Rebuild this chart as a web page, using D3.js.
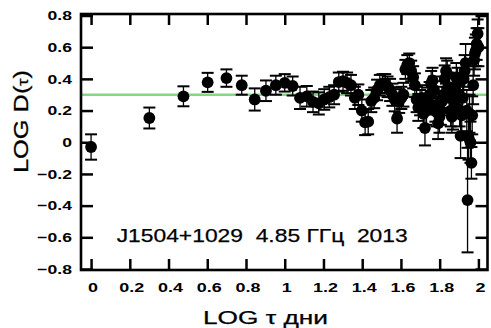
<!DOCTYPE html>
<html><head><meta charset="utf-8">
<script src="https://cdn.jsdelivr.net/npm/d3@7"></script>
<style>html,body{margin:0;padding:0;background:#fff;}svg{display:block;}</style>
</head><body>
<svg id="c" width="491" height="328"></svg>
<script>
const logTau = [0,0.301,0.477,0.602,0.699,0.778,0.845,0.903,0.954,1.0,
1.041,1.079,1.114,1.146,1.176,1.204,1.230,1.255,1.279,1.301,
1.322,1.342,1.362,1.380,1.398,1.415,1.431,1.447,1.462,1.477,
1.491,1.505,1.519,1.531,1.544,1.556,1.568,1.580,1.591,1.602,
1.613,1.623,1.633,1.643,1.653,1.663,1.672,1.681,1.690,1.699,
1.708,1.716,1.724,1.732,1.740,1.748,1.756,1.763,1.771,1.778,
1.785,1.792,1.799,1.806,1.813,1.820,1.826,1.833,1.839,1.845,
1.851,1.857,1.863,1.869,1.875,1.881,1.886,1.892,1.898,1.903,
1.908,1.914,1.919,1.924,1.929,1.934,1.940,1.944,1.949,1.954,
1.959,1.964,1.968,1.973,1.978,1.982,1.987,1.991,1.996,2.0];
const logD = [-0.03,0.153,0.29,0.378,0.405,0.36,0.27,0.325,0.36,0.375,
0.355,0.28,0.29,0.255,0.245,0.27,0.285,0.30,0.38,0.385,
0.375,0.36,0.28,0.30,0.20,0.125,0.13,0.26,0.28,0.33,
0.36,0.37,0.37,0.35,0.33,0.30,0.27,0.15,0.26,0.28,
0.30,0.46,0.49,0.50,0.45,0.41,0.36,0.27,0.22,0.25,
0.28,0.18,0.09,0.20,0.26,0.30,0.37,0.39,0.33,0.22,
0.19,0.12,0.16,0.20,0.26,0.30,0.40,0.45,0.43,0.35,
0.28,0.20,0.16,0.18,0.25,0.33,0.41,0.38,0.30,0.20,
0.04,0.17,0.28,0.40,0.45,0.50,0.20,-0.365,0.03,0.18,
0.00,-0.13,0.17,0.36,0.52,0.56,0.58,0.62,0.685,0.60];
const errD = [0.08,0.066,0.063,0.06,0.055,0.06,0.07,0.065,0.06,0.055,
0.06,0.07,0.065,0.065,0.07,0.065,0.065,0.06,0.06,0.06,
0.065,0.065,0.07,0.065,0.07,0.08,0.08,0.07,0.065,0.065,
0.065,0.06,0.06,0.065,0.07,0.07,0.075,0.09,0.075,0.07,
0.075,0.06,0.06,0.06,0.065,0.07,0.075,0.08,0.085,0.08,
0.08,0.09,0.11,0.09,0.085,0.08,0.08,0.08,0.085,0.09,
0.09,0.10,0.10,0.09,0.09,0.085,0.085,0.08,0.085,0.09,
0.09,0.10,0.10,0.10,0.09,0.09,0.09,0.09,0.10,0.10,
0.14,0.12,0.11,0.10,0.10,0.12,0.13,0.33,0.14,0.12,
0.13,0.10,0.12,0.12,0.10,0.10,0.10,0.10,0.09,0.12];
const xTicks = [0,0.2,0.4,0.6,0.8,1,1.2,1.4,1.6,1.8,2];
const yTicks = [0.8,0.6,0.4,0.2,0,-0.2,-0.4,-0.6,-0.8];
const refLevel = 0.3;
const xTitle = "LOG \u03C4 \u0434\u043D\u0438";
const annotation = "J1504+1029\u00A0\u00A04.85\u00A0\u0413\u0413\u0446\u00A0\u00A02013";

const svg = d3.select("#c");
const L = 81, R = 487.5, T = 14, B = 270;
const x = d3.scaleLinear().domain([-0.052, 2.047]).range([L, R]);
const y = d3.scaleLinear().domain([-0.8, 0.8]).range([269, 15.5]);
const font = "'Liberation Sans', Arial, sans-serif";

// reference line
svg.append("line").attr("x1", L).attr("x2", R).attr("y1", y(refLevel)).attr("y2", y(refLevel))
  .attr("stroke", "#86d686").attr("stroke-width", 2.5);

const data = logTau.map((v, i) => ({x: v, y: logD[i], e: errD[i]}));
const g = svg.append("g");
// error bars
data.forEach(d => {
  const cx = x(d.x), y1 = y(d.y + d.e), y2 = y(d.y - d.e);
  g.append("line").attr("x1", cx).attr("x2", cx).attr("y1", y1).attr("y2", y2).attr("stroke", "#000").attr("stroke-width", 1.3);
  [y1, y2].forEach(yy => g.append("line").attr("x1", cx - 6).attr("x2", cx + 6).attr("y1", yy).attr("y2", yy).attr("stroke", "#000").attr("stroke-width", 2));
});
g.selectAll("circle").data(data).join("circle")
  .attr("cx", d => x(d.x)).attr("cy", d => y(d.y)).attr("r", 5.9).attr("fill", "#000");

// frame
svg.append("rect").attr("x", L).attr("y", T).attr("width", R - L).attr("height", B - T)
  .attr("fill", "none").attr("stroke", "#000").attr("stroke-width", 2.6);

// ticks (inward on all sides)
const axB = d3.axisBottom(x).tickValues(xTicks).tickSize(-11).tickFormat("");
const axT = d3.axisTop(x).tickValues(xTicks).tickSize(-11).tickFormat("");
const axL = d3.axisLeft(y).tickValues(yTicks).tickSize(-12).tickFormat("");
const axR = d3.axisRight(y).tickValues(yTicks).tickSize(-12).tickFormat("");
[[axB, `translate(0,${B})`], [axT, `translate(0,${T})`], [axL, `translate(${L},0)`], [axR, `translate(${R},0)`]].forEach(([ax, tr]) => {
  const a = svg.append("g").attr("transform", tr).call(ax);
  a.select(".domain").remove();
  a.selectAll("line").attr("stroke", "#000").attr("stroke-width", 2.5);
});

// tick labels
xTicks.forEach(v => {
  svg.append("text").attr("transform", `translate(${x(v) + 2},292) scale(1.33,1)`)
    .attr("text-anchor", "middle").attr("font-family", font).attr("font-weight", "bold")
    .attr("font-size", 13.5).text(d3.format("")(v));
});
yTicks.forEach(v => {
  svg.append("text").attr("transform", `translate(72,${y(v) + 4.8}) scale(1.3,1)`)
    .attr("text-anchor", "end").attr("font-family", font).attr("font-weight", "bold")
    .attr("font-size", 13.5).text(d3.format("")(v));
});

// titles
svg.append("text").attr("x", 203).attr("y", 323.5).attr("font-family", font).attr("font-size", 18)
  .attr("stroke", "#000").attr("stroke-width", 0.25)
  .attr("textLength", 125).attr("lengthAdjust", "spacingAndGlyphs").text(xTitle);
const yt = svg.append("text").attr("transform", "translate(28,173) rotate(-90)")
  .attr("font-family", font).attr("font-size", 21).attr("stroke", "#000").attr("stroke-width", 0.3)
  .attr("textLength", 103).attr("lengthAdjust", "spacingAndGlyphs");
yt.append("tspan").text("LOG D(");
yt.append("tspan").attr("font-size", 15).text("\u03C4");
yt.append("tspan").text(")");

svg.append("text").attr("x", 116.7).attr("y", 241.5).attr("font-family", font).attr("font-size", 19)
  .attr("stroke", "#000").attr("stroke-width", 0.25)
  .attr("textLength", 291).attr("lengthAdjust", "spacingAndGlyphs").text(annotation);
</script>
</body></html>
